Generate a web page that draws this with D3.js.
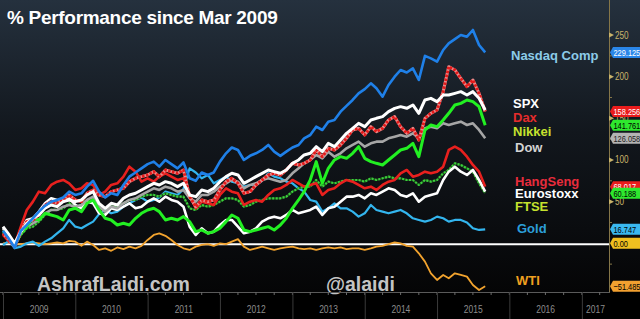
<!DOCTYPE html>
<html>
<head>
<meta charset="utf-8">
<title>% Performance since Mar 2009</title>
<script src="https://cdn.jsdelivr.net/npm/d3@7"></script>
<style>
body { margin: 0; background: #000; }
svg { display: block; font-family: "Liberation Sans", Arial, sans-serif; }
</style>
</head>
<body>
<div id="chart"></div>
<script>

// monthly points, Jan 2009 .. Sep 2015 (81 months)
var months = d3.timeMonth.range(new Date(2009, 0, 1), new Date(2015, 9, 1));

// % change since Mar 2009
var nasdaq = [15,5,-5,15,22,30,38,45,50,52,55,62, 58,60,68,75,62,55,60,58,70,80,85,90,
  95,98,92,100,95,90,97,78,75,85,82,85, 98,108,115,112,100,105,108,112,118,110,105,110,
  115,118,126,130,140,136,146,148,158,165,172,180, 185,192,186,176,190,200,208,205,210,196,225,222,
  218,232,240,245,250,248,256,238, 229.125];
var spx = [20,10,0,14,24,30,34,42,46,44,50,52, 50,52,58,62,48,42,48,46,54,58,60,64,
  68,72,70,74,72,68,72,58,56,64,62,66, 74,80,84,82,72,76,80,84,88,86,84,88,
  96,100,106,108,116,110,120,116,124,132,138,144, 140,148,150,152,158,162,164,162,166,156,172,174,
  170,178,178,180,182,178,182,174, 160];
var dax = [12,4,-4,14,26,28,34,46,50,48,52,58, 52,50,60,64,58,56,62,64,66,74,78,80,
  82,86,80,88,86,84,88,56,44,52,50,52, 64,74,78,72,60,62,70,76,82,84,82,88,
  96,94,96,100,112,104,114,112,118,126,136,138, 130,140,134,138,148,152,140,132,138,124,150,156,
  160,182,212,208,198,188,196,180, 158.256];
var nikkei = [15,8,-2,12,20,30,28,36,34,32,28,40, 42,38,48,52,40,30,28,22,24,22,30,36,
  40,42,38,28,30,28,32,26,14,16,12,14, 18,26,34,30,16,14,16,18,20,16,22,30,
  42,52,62,76,98,72,90,100,104,102,108,116, 102,98,96,94,100,106,112,114,120,104,136,142,
  140,148,156,166,168,172,170,164, 141.761];
var dow = [18,8,-2,12,20,24,28,36,40,40,44,46, 44,46,52,56,44,38,44,42,48,52,54,58,
  62,66,64,68,66,62,64,54,50,58,58,62, 68,72,76,74,66,70,72,76,78,76,74,76,
  84,90,96,100,106,102,110,104,108,114,118,122, 116,120,122,122,126,128,130,128,132,126,138,140,
  138,144,142,144,146,142,144,136, 126.058];
var hangseng = [10,2,-2,20,40,50,62,60,70,74,76,72, 64,66,72,70,58,62,70,72,80,92,86,74,
  78,74,80,84,80,76,78,58,42,50,48,46, 58,66,62,60,46,50,52,50,58,64,66,70,
  76,72,68,70,72,58,64,66,72,76,74,70, 66,68,64,70,74,76,84,88,80,82,86,84,
  86,92,112,116,112,104,94,86, 68.017];
var eurostoxx = [18,6,-2,16,28,30,38,48,54,52,50,54, 46,42,50,48,36,34,42,40,44,48,42,44,
  50,54,50,56,52,50,44,20,10,18,12,14, 22,28,28,20,12,14,18,26,30,32,30,34,
  40,36,38,40,44,34,42,44,50,56,56,58, 54,60,58,62,66,64,58,56,60,50,56,58,
  60,76,86,92,86,82,88,76, 62];
var ftse = [12,4,-4,10,18,20,26,34,40,40,42,48, 44,46,52,54,44,38,44,44,48,52,52,56,
  58,58,56,60,58,56,56,42,40,46,44,46, 50,54,54,52,44,46,50,52,54,54,54,56,
  62,66,68,68,76,68,74,72,74,76,76,76, 74,78,76,78,80,78,78,76,76,70,76,74,
  76,84,88,96,94,90,86,72, 60.188];
var gold = [-2,3,-6,-4,0,2,-3,2,6,12,18,28, 20,18,22,26,35,40,36,38,44,48,52,55,
  50,52,55,62,60,58,65,90,85,78,82,72, 76,80,74,72,68,70,70,75,84,80,78,74,
  72,66,62,52,50,38,42,48,42,42,38,32, 36,46,40,38,36,38,40,36,30,28,26,28,
  32,30,26,28,28,25,18,16, 16.747];
var wti = [0,1,0,-1,0,1,0,-1,0,1,0,3, 2,-3,2,-2,-8,-6,-9,-5,-7,-4,-6,-3,
  4,10,12,9,4,-2,-6,-8,-4,-2,-1,-3, 0,-1,2,5,-4,-8,-6,-4,-6,-8,-6,-5,
  -4,-6,-7,-6,-8,-6,-5,-6,-5,-7,-6,-6, -8,-6,-4,-3,-1,1,0,-3,-4,-12,-22,-36,
  -44,-38,-42,-36,-38,-40,-50,-56, -51.485];

var years = [2009, 2010, 2011, 2012, 2013, 2014, 2015, 2016, 2017];
var majorTicks = [250, 200, 150, 100, 50];
var minorTicks = [225, 175, 125, 75, 25, -25];

var width = 640, height = 319,
    plotRight = 609, plotBottom = 292;

var x = d3.scaleTime()
    .domain([new Date(2009, 0, 1), new Date(2017, 4, 18)])
    .range([3, plotRight]);

var y = d3.scaleLinear()
    .domain([0, 250])
    .range([243.3, 35]);

var svg = d3.select("#chart").append("svg")
    .attr("width", width)
    .attr("height", height);

var grad = svg.append("defs").append("linearGradient")
    .attr("id", "bg").attr("x1", 0).attr("y1", 0).attr("x2", 0).attr("y2", 1);
grad.append("stop").attr("offset", "0%").attr("stop-color", "#25313e");
grad.append("stop").attr("offset", "45%").attr("stop-color", "#12171d");
grad.append("stop").attr("offset", "100%").attr("stop-color", "#050506");

svg.append("rect").attr("width", width).attr("height", plotBottom).attr("fill", "url(#bg)");
svg.append("rect").attr("y", plotBottom).attr("width", width).attr("height", height - plotBottom).attr("fill", "#000");

svg.append("defs").append("clipPath").attr("id", "plot")
  .append("rect").attr("x", 0).attr("y", 0).attr("width", plotRight).attr("height", plotBottom);

// title + watermarks
svg.append("text").attr("x", 7).attr("y", 24)
    .attr("fill", "#fff").style("font-size", "19px").style("font-weight", "bold")
    .style("letter-spacing", "-0.3px")
    .text("% Performance since Mar 2009");

svg.append("text").attr("x", 37).attr("y", 291)
    .attr("fill", "#c4c4c4").style("font-size", "19.5px").style("font-weight", "bold")
    .text("AshrafLaidi.com");
svg.append("text").attr("x", 326).attr("y", 291)
    .attr("fill", "#c4c4c4").style("font-size", "19.5px").style("font-weight", "bold")
    .text("@alaidi");

// zero line
var plot = svg.append("g").attr("clip-path", "url(#plot)");
plot.append("line")
    .attr("x1", 0).attr("x2", plotRight)
    .attr("y1", y(0) + 1).attr("y2", y(0) + 1)
    .attr("stroke", "#fff").attr("stroke-width", 2);

var series = [
  {values: wti, color: "#f2a32e", width: 1.8},
  {values: gold, color: "#33b5ee", width: 2.2},
  {values: ftse, color: "#3ccf3c", width: 2.2, dash: "2,1.5", under: "#1c5a1c"},
  {values: eurostoxx, color: "#ffffff", width: 2.6},
  {values: hangseng, color: "#e8201e", width: 2.6},
  {values: dow, color: "#a6a6a6", width: 2.6},
  {values: nikkei, color: "#22f022", width: 3},
  {values: dax, color: "#e41a1a", width: 3, dash: "2.5,1.5", under: "#e88a8a"},
  {values: spx, color: "#ffffff", width: 3},
  {values: nasdaq, color: "#1f80e8", width: 2.6}
];

var line = d3.line()
    .x(function(d, i) { return x(months[i]); })
    .y(function(d) { return y(d); });

series.forEach(function(s) {
  if (s.under) {
    plot.append("path").attr("d", line(s.values))
      .attr("fill", "none").attr("stroke", s.under).attr("stroke-width", s.width)
      .attr("stroke-linejoin", "round");
  }
  plot.append("path").attr("d", line(s.values))
    .attr("fill", "none").attr("stroke", s.color).attr("stroke-width", s.width)
    .attr("stroke-linejoin", "round")
    .attr("stroke-dasharray", s.dash || null);
});

// legend labels inside the plot
var legend = [
  {text: "Nasdaq Comp", color: "#8ccbe8", x: 511, y: 55},
  {text: "SPX", color: "#ffffff", x: 513, y: 103},
  {text: "Dax", color: "#e42c2c", x: 513, y: 117},
  {text: "Nikkei", color: "#c6e22e", x: 513, y: 131},
  {text: "Dow", color: "#d4d4d4", x: 515, y: 147},
  {text: "HangSeng", color: "#e82c3c", x: 515, y: 181},
  {text: "Eurostoxx", color: "#ffffff", x: 515, y: 193},
  {text: "FTSE", color: "#c6e22e", x: 515, y: 206},
  {text: "Gold", color: "#2c9fda", x: 517, y: 228},
  {text: "WTI", color: "#f0a020", x: 516, y: 280}
];
svg.selectAll(".legend").data(legend).enter().append("text")
    .attr("class", "legend")
    .attr("x", function(d) { return d.x; })
    .attr("y", function(d) { return d.y + 4.6; })
    .attr("fill", function(d) { return d.color; })
    .style("font-size", "13px").style("font-weight", "bold")
    .text(function(d) { return d.text; });

// right axis
svg.append("line").attr("x1", plotRight + 0.5).attr("x2", plotRight + 0.5)
    .attr("y1", 0).attr("y2", plotBottom)
    .attr("stroke", "#857648").attr("stroke-width", 1);

var axisG = svg.append("g");
axisG.selectAll(".mt").data(majorTicks).enter().append("path")
    .attr("d", function(d) { var t = y(d); return "M" + plotRight + "," + (t - 2.5) + "L" + (plotRight + 5) + "," + t + "L" + plotRight + "," + (t + 2.5) + "Z"; })
    .attr("fill", "#c9b36a");
axisG.selectAll(".ml").data(majorTicks).enter().append("text")
    .attr("transform", function(d) { return "translate(" + (plotRight + 6) + "," + (y(d) + 3.5) + ") scale(0.82,1)"; })
    .attr("fill", "#c9b36a").style("font-size", "10px")
    .text(function(d) { return d; });
axisG.selectAll(".mn").data(minorTicks).enter().append("line")
    .attr("x1", plotRight).attr("x2", plotRight + 3)
    .attr("y1", function(d) { return y(d); }).attr("y2", function(d) { return y(d); })
    .attr("stroke", "#857648");

// value tags
var tags = [
  {v: nasdaq[nasdaq.length - 1], fill: "#2a86e8", ink: "#fff", fmt: ".3f"},
  {v: dax[dax.length - 1], fill: "#ea1c1c", ink: "#fff", fmt: ".3f"},
  {v: nikkei[nikkei.length - 1], fill: "#2ee82e", ink: "#000", fmt: ".3f"},
  {v: dow[dow.length - 1], fill: "#b4b4b4", ink: "#222", fmt: ".3f"},
  {v: hangseng[hangseng.length - 1], fill: "#ea1c1c", ink: "#fff", fmt: ".3f"},
  {v: ftse[ftse.length - 1], fill: "#2ee82e", ink: "#000", fmt: ".3f"},
  {v: gold[gold.length - 1], fill: "#3ab8f0", ink: "#000", fmt: ".3f"},
  {v: 0, fill: "#f0c020", ink: "#000", fmt: ".2f"},
  {v: wti[wti.length - 1], fill: "#f2a030", ink: "#000", fmt: ".3f"}
];
var tagG = svg.selectAll(".tag").data(tags).enter().append("g")
    .attr("class", "tag")
    .attr("transform", function(d) { return "translate(" + plotRight + "," + y(d.v) + ")"; });
tagG.append("path")
    .attr("d", "M1,0L4,-5.5L40,-5.5L40,5.5L4,5.5Z")
    .attr("fill", function(d) { return d.fill; });
tagG.append("text")
    .attr("transform", "translate(4.5,3.4) scale(0.78,1)")
    .attr("fill", function(d) { return d.ink; })
    .style("font-size", "9.5px")
    .text(function(d) { return d3.format(d.fmt)(d.v); });

// bottom axis
svg.append("line").attr("x1", 0).attr("x2", plotRight + 1)
    .attr("y1", plotBottom + 0.5).attr("y2", plotBottom + 0.5)
    .attr("stroke", "#5a5a5a");

var quarters = d3.timeMonth.every(3).range(x.domain()[0], x.domain()[1]);
svg.selectAll(".qt").data(quarters).enter().append("line")
    .attr("x1", function(d) { return x(d); }).attr("x2", function(d) { return x(d); })
    .attr("y1", plotBottom).attr("y2", plotBottom + 3)
    .attr("stroke", "#6a6a6a");

svg.selectAll(".ysep").data(years).enter().append("line")
    .attr("x1", function(d) { return x(new Date(d, 0, 1)) + 0.5; })
    .attr("x2", function(d) { return x(new Date(d, 0, 1)) + 0.5; })
    .attr("y1", plotBottom).attr("y2", height)
    .attr("stroke", "#3a3a3a");

svg.selectAll(".ylab").data(years).enter().append("text")
    .attr("transform", function(d) {
      var a = x(new Date(d, 0, 1)), b = Math.min(x(new Date(d + 1, 0, 1)), plotRight);
      return "translate(" + ((a + b) / 2) + ",313) scale(0.85,1)";
    })
    .attr("text-anchor", "middle")
    .attr("fill", "#8c8c8c").style("font-size", "10px")
    .text(function(d) { return d; });

</script>
</body>
</html>
